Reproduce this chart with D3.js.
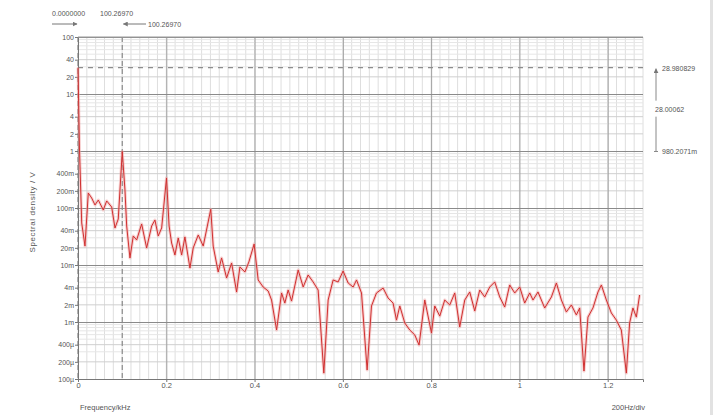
<!DOCTYPE html>
<html>
<head>
<meta charset="utf-8">
<script src="https://cdn.jsdelivr.net/npm/d3@7"></script>
<style>
body { margin: 0; background: #fff; }
text { font-family: "Liberation Sans", Arial, sans-serif; }
</style>
</head>
<body>
<div id="chart"></div>
<script>
// Spectrum trace (frequency in kHz, spectral density in V)
const freqs = [0, 0.0034, 0.0084, 0.0158, 0.0233, 0.031, 0.0385, 0.046, 0.0573, 0.065,
  0.0763, 0.0838, 0.0912, 0.10027, 0.1064, 0.1103, 0.1177, 0.1252, 0.1329, 0.1442,
  0.1555, 0.1669, 0.1743, 0.1818, 0.1895, 0.2005, 0.2064, 0.2121, 0.2196, 0.2271,
  0.2348, 0.2422, 0.2536, 0.261, 0.2724, 0.2837, 0.3008, 0.3063, 0.3176, 0.3253,
  0.3367, 0.348, 0.3593, 0.3668, 0.3781, 0.3871, 0.3990, 0.4082, 0.4195, 0.4308,
  0.4385, 0.4499, 0.4612, 0.4686, 0.4761, 0.4838, 0.4988, 0.5101, 0.5214, 0.5327,
  0.544, 0.5569, 0.5667, 0.578, 0.5893, 0.6006, 0.612, 0.6233, 0.631, 0.6423,
  0.655, 0.6649, 0.6762, 0.6912, 0.7025, 0.7138, 0.7215, 0.729, 0.7403, 0.7516,
  0.763, 0.7727, 0.7856, 0.8008, 0.8082, 0.8196, 0.8309, 0.8422, 0.8535, 0.8648,
  0.8762, 0.8875, 0.8988, 0.9101, 0.9214, 0.9328, 0.9441, 0.9554, 0.9667, 0.978,
  0.9894, 1.0007, 1.012, 1.0233, 1.0308, 1.0421, 1.0573, 1.0725, 1.0838, 1.0951,
  1.1064, 1.1177, 1.129, 1.1365, 1.1463, 1.1553, 1.1666, 1.178, 1.1857, 1.197,
  1.2083, 1.2196, 1.2309, 1.2423, 1.2497, 1.2572, 1.2649, 1.2723];
const density = [28.98, 1.04, 0.0546, 0.0215, 0.183, 0.1496, 0.113, 0.138, 0.0923, 0.133,
  0.104, 0.0446, 0.0641, 0.9802, 0.207, 0.0483, 0.0133, 0.0323, 0.0275, 0.0524,
  0.0199, 0.0483, 0.0615, 0.0323, 0.0446, 0.336, 0.0483, 0.0243, 0.015, 0.0298,
  0.015, 0.031, 0.00885, 0.0199, 0.0336, 0.0215, 0.095, 0.0215, 0.00754, 0.0133,
  0.00592, 0.01084, 0.00336, 0.00923, 0.00754, 0.0113, 0.0233, 0.00546, 0.00411, 0.0035,
  0.00243, 0.000724, 0.00323, 0.00215, 0.00364, 0.00233, 0.00817, 0.00411, 0.00668, 0.00504,
  0.00364, 0.000127, 0.00243, 0.00546, 0.00504, 0.00785, 0.00483, 0.00411, 0.00546, 0.00323,
  0.000144, 0.00191, 0.00323, 0.00394, 0.00264, 0.00215, 0.00108, 0.00191, 0.00096, 0.000724,
  0.000592, 0.000394, 0.00243, 0.000641, 0.00191, 0.00127, 0.00243, 0.00199, 0.00323, 0.000817,
  0.00243, 0.00336, 0.00156, 0.00364, 0.00275, 0.00411, 0.00504, 0.00275, 0.00183, 0.00446,
  0.00323, 0.00411, 0.00215, 0.00323, 0.00243, 0.00336, 0.00176, 0.00275, 0.00483, 0.00243,
  0.0015, 0.00199, 0.00133, 0.00176, 0.000138, 0.00122, 0.00176, 0.00336, 0.00446, 0.00243,
  0.00144, 0.00108, 0.000724, 0.000127, 0.00096, 0.00176, 0.00122, 0.00298];

// Axis ticks
const xTickValues = [0, 0.2, 0.4, 0.6, 0.8, 1, 1.2];
const xTickLabels = ["0", "0.2", "0.4", "0.6", "0.8", "1", "1.2"];
const yTickValues = [100, 40, 20, 10, 4, 2, 1, 0.4, 0.2, 0.1, 0.04, 0.02, 0.01,
  0.004, 0.002, 0.001, 0.0004, 0.0002, 0.0001];
const yTickLabels = ["100", "40", "20", "10", "4", "2", "1", "400m", "200m", "100m",
  "40m", "20m", "10m", "4m", "2m", "1m", "400\u00b5", "200\u00b5", "100\u00b5"];

// Cursors
const cursorFreqs = [0, 0.10027];
const cursorFreqLabels = ["0.0000000", "100.26970", "100.26970"];
const cursorLevels = [28.980829, 0.9802071];
const cursorLevelLabels = ["28.980829", "28.00062", "980.2071m"];

function drawChart() {
    const margin = {top: 37, left: 78},
          width = 565,
          height = 342;

    const svg = d3.select("#chart")
        .append("svg")
        .attr("width", 719)
        .attr("height", 415);

    // window edge on the right
    svg.append("rect")
        .attr("x", 710).attr("y", 0)
        .attr("width", 3).attr("height", 415)
        .attr("fill", "#e2e2e2");

    const g = svg.append("g")
        .attr("transform", `translate(${margin.left},${margin.top})`);

    const x = d3.scaleLinear().domain([0, 1.28]).range([0, width]);
    const y = d3.scaleLog().domain([0.0001, 100]).range([height, 0]);

    // Minor grid
    const xMinor = d3.range(0, 1.2801, 0.02);
    g.append("g")
        .selectAll("line")
        .data(xMinor)
        .join("line")
        .attr("x1", d => x(d)).attr("x2", d => x(d))
        .attr("y1", 0).attr("y2", height)
        .attr("stroke", "#dedede")
        .attr("stroke-width", 1);

    const yMinor = [];
    [0.0001, 0.001, 0.01, 0.1, 1, 10].forEach(dec => {
        for (let k = 2; k <= 9; k++) yMinor.push({v: k * dec, k: k});
    });
    g.append("g")
        .selectAll("line")
        .data(yMinor)
        .join("line")
        .attr("x1", 0).attr("x2", width)
        .attr("y1", d => y(d.v)).attr("y2", d => y(d.v))
        .attr("stroke", d => (d.k === 2 || d.k === 4) ? "#cfcfcf" : "#e6e6e6")
        .attr("stroke-width", 1);

    // Major grid
    g.append("g")
        .attr("transform", `translate(0,${height})`)
        .call(d3.axisBottom(x).tickValues(xTickValues).tickSize(-height).tickFormat(""))
        .call(a => a.select(".domain").remove())
        .selectAll("line")
        .attr("stroke", "#a0a0a0");

    g.append("g")
        .call(d3.axisLeft(y).tickValues([100, 10, 1, 0.1, 0.01, 0.001, 0.0001]).tickSize(-width).tickFormat(""))
        .call(a => a.select(".domain").remove())
        .selectAll("line")
        .attr("stroke", "#8a8a8a");

    // Cursor lines
    g.selectAll(".cursor-h")
        .data(cursorLevels)
        .join("line")
        .attr("class", "cursor-h")
        .attr("x1", 0).attr("x2", width)
        .attr("y1", d => y(d)).attr("y2", d => y(d))
        .attr("stroke", "#8c8c8c")
        .attr("stroke-width", 1.2)
        .attr("stroke-dasharray", "5,5");

    g.selectAll(".cursor-v")
        .data(cursorFreqs)
        .join("line")
        .attr("class", "cursor-v")
        .attr("x1", d => x(d)).attr("x2", d => x(d))
        .attr("y1", 0).attr("y2", height)
        .attr("stroke", "#8c8c8c")
        .attr("stroke-width", 1.2)
        .attr("stroke-dasharray", "5,3");

    // Axes
    const yAxis = g.append("g")
        .call(d3.axisLeft(y).tickValues(yTickValues).tickSize(3).tickPadding(1)
            .tickFormat((d, i) => yTickLabels[i]));
    yAxis.select(".domain").attr("stroke", "#777");
    yAxis.selectAll("line").attr("stroke", "#777");
    yAxis.selectAll("text").attr("fill", "#555").style("font-size", "7px");

    const xAxis = g.append("g")
        .attr("transform", `translate(0,${height})`)
        .call(d3.axisBottom(x).tickValues(xTickValues).tickSize(3).tickPadding(1)
            .tickFormat((d, i) => xTickLabels[i]));
    xAxis.select(".domain").attr("stroke", "#777");
    xAxis.selectAll("line").attr("stroke", "#777");
    xAxis.selectAll("text").attr("fill", "#555").style("font-size", "7.5px");

    // top border
    g.append("line")
        .attr("x1", 0).attr("x2", width)
        .attr("y1", 0).attr("y2", 0)
        .attr("stroke", "#999");

    // Trace
    const points = freqs.map((f, i) => [f, density[i]]);
    const line = d3.line()
        .x(d => x(d[0]))
        .y(d => y(d[1]));

    g.append("path")
        .datum(points)
        .attr("d", line)
        .attr("fill", "none")
        .attr("stroke", "#f0a0a0")
        .attr("stroke-opacity", 0.5)
        .attr("stroke-width", 3)
        .attr("stroke-linejoin", "round");

    g.append("path")
        .datum(points)
        .attr("d", line)
        .attr("fill", "none")
        .attr("stroke", "#d03030")
        .attr("stroke-width", 1)
        .attr("stroke-linejoin", "round");

    // Frequency cursor readout
    const fs = "7px", tc = "#555";
    svg.append("text").attr("x", 52).attr("y", 16).style("font-size", fs).attr("fill", tc)
        .text(cursorFreqLabels[0]);
    svg.append("text").attr("x", 100).attr("y", 16).style("font-size", fs).attr("fill", tc)
        .text(cursorFreqLabels[1]);
    svg.append("text").attr("x", 148).attr("y", 27).style("font-size", fs).attr("fill", tc)
        .text(cursorFreqLabels[2]);

    const defs = svg.append("defs");
    defs.append("marker")
        .attr("id", "arrow")
        .attr("viewBox", "0 0 10 10")
        .attr("refX", 9).attr("refY", 5)
        .attr("markerWidth", 5).attr("markerHeight", 5)
        .attr("orient", "auto-start-reverse")
        .append("path")
        .attr("d", "M0,0L10,5L0,10z")
        .attr("fill", "#777");

    svg.append("line")
        .attr("x1", 52).attr("x2", margin.left - 1)
        .attr("y1", 24).attr("y2", 24)
        .attr("stroke", "#777")
        .attr("marker-end", "url(#arrow)");
    svg.append("line")
        .attr("x1", 146).attr("x2", margin.left + x(cursorFreqs[1]) + 1)
        .attr("y1", 24).attr("y2", 24)
        .attr("stroke", "#777")
        .attr("marker-end", "url(#arrow)");

    // Level cursor readout
    const ax = 656;
    const yTop = margin.top + y(cursorLevels[0]);
    const yBot = margin.top + y(cursorLevels[1]);
    svg.append("line")
        .attr("x1", ax).attr("x2", ax)
        .attr("y1", yTop + 33).attr("y2", yTop + 1)
        .attr("stroke", "#888")
        .attr("marker-end", "url(#arrow)");
    svg.append("line")
        .attr("x1", ax).attr("x2", ax)
        .attr("y1", yBot).attr("y2", yTop + 49)
        .attr("stroke", "#888");
    svg.append("line")
        .attr("x1", ax - 2).attr("x2", ax + 2)
        .attr("y1", yBot).attr("y2", yBot)
        .attr("stroke", "#888");

    svg.append("text").attr("x", 662).attr("y", yTop + 3).style("font-size", fs).attr("fill", tc)
        .text(cursorLevelLabels[0]);
    svg.append("text").attr("x", 655).attr("y", yTop + 44).style("font-size", fs).attr("fill", tc)
        .text(cursorLevelLabels[1]);
    svg.append("text").attr("x", 662).attr("y", yBot + 3).style("font-size", fs).attr("fill", tc)
        .text(cursorLevelLabels[2]);

    // Axis titles
    svg.append("text")
        .attr("x", 80).attr("y", 410)
        .style("font-size", "7.5px").attr("fill", tc)
        .text("Frequency/kHz");

    svg.append("text")
        .attr("x", 645).attr("y", 410)
        .attr("text-anchor", "end")
        .style("font-size", "7.5px").attr("fill", tc)
        .text("200Hz/div");

    svg.append("text")
        .attr("transform", "translate(35,212) rotate(-90)")
        .attr("text-anchor", "middle")
        .style("font-size", "8px")
        .style("letter-spacing", "0.6px")
        .attr("fill", tc)
        .text("Spectral density / V");
}

document.addEventListener("DOMContentLoaded", drawChart);
</script>
</body>
</html>
